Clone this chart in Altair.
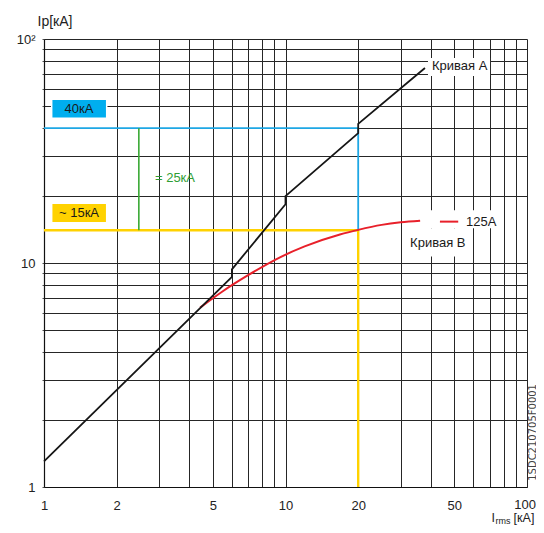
import altair as alt
import pandas as pd

FONT = "Liberation Sans"

# grid / tick values
grid_vals = [1, 2, 3, 4, 5, 6, 7, 8, 9, 10, 20, 30, 40, 50, 60, 70, 80, 90, 100]
x_label_vals = [1, 2, 5, 10, 20, 50]
x_last_label = [100]

# Curve A (black)
curve_a_x = [1, 6, 6, 10, 10, 20, 20, 37.8]
curve_a_y = [1.3, 8.66, 9.37, 18.3, 19.9, 38.0, 41.8, 74.2]

# Curve B (red, 125A)
curve_b_x = [4.43, 5.5, 7, 9.49, 12, 16.8, 20, 25, 30, 36.1]
curve_b_y = [6.32, 7.48, 8.82, 10.6, 11.86, 13.4, 14.06, 14.8, 15.2, 15.45]

# reference levels
ip_high = 40
ip_low = 14.0
irms_ref = 20
delta_x = 2.47

GRID = "#262626"

xscale = alt.Scale(type="log", domain=[1, 100], nice=False)
yscale = alt.Scale(type="log", domain=[1, 100], nice=False)

xaxis = alt.Axis(values=grid_vals, grid=True, gridColor=GRID, gridWidth=1, gridOpacity=1,
                 ticks=False, domainColor="#111", domainWidth=1.2,
                 labelExpr="indexof([1,2,5,10,20,50], datum.value) >= 0 ? '' + datum.value : ''",
                 labelFont=FONT, labelFontSize=13, labelColor="#222", labelPadding=12,
                 labelFlush=False, labelOverlap=False, title=None)
yaxis = alt.Axis(values=grid_vals, grid=True, gridColor=GRID, gridWidth=1, gridOpacity=1,
                 ticks=True, tickSize=2, tickColor="#555", domainColor="#111", domainWidth=1.2,
                 labelExpr="datum.value == 1 ? '1' : datum.value == 10 ? '10' : datum.value == 100 ? '10²' : ''",
                 labelFont=FONT, labelFontSize=13, labelColor="#222", labelPadding=7,
                 labelFlush=False, labelOverlap=False,
                 title="Ip[кА]", titleAngle=0, titleAlign="left", titleBaseline="alphabetic",
                 titleX=-7, titleY=-14, titleFont=FONT, titleFontSize=14, titleFontWeight="normal",
                 titleColor="#222")

X = lambda f: alt.X(f, type="quantitative", scale=xscale, axis=xaxis)
Y = lambda f: alt.Y(f, type="quantitative", scale=yscale, axis=yaxis)
X2 = lambda f: alt.X2(f)
Y2 = lambda f: alt.Y2(f)

curve_a = pd.DataFrame({"x": curve_a_x, "y": curve_a_y, "o": list(range(len(curve_a_x)))})
curve_b = pd.DataFrame({"x": curve_b_x, "y": curve_b_y, "o": list(range(len(curve_b_x)))})

base_grid = alt.Chart(pd.DataFrame({"x": [1], "y": [1]})).mark_point(opacity=0).encode(x=X("x"), y=Y("y"))

yellow_h = alt.Chart(pd.DataFrame({"x": [1], "x2": [irms_ref], "y": [ip_low]})).mark_rule(
    color="#ffd200", strokeWidth=2.4).encode(x=X("x"), x2=X2("x2"), y=Y("y"))
yellow_v = alt.Chart(pd.DataFrame({"x": [irms_ref], "y": [1], "y2": [ip_low]})).mark_rule(
    color="#ffd200", strokeWidth=2.4).encode(x=X("x"), y=Y("y"), y2=Y2("y2"))
blue_h = alt.Chart(pd.DataFrame({"x": [1], "x2": [irms_ref], "y": [ip_high]})).mark_rule(
    color="#1ea7e4", strokeWidth=1.6).encode(x=X("x"), x2=X2("x2"), y=Y("y"))
blue_v = alt.Chart(pd.DataFrame({"x": [irms_ref], "y": [ip_low], "y2": [ip_high]})).mark_rule(
    color="#1ea7e4", strokeWidth=1.8).encode(x=X("x"), y=Y("y"), y2=Y2("y2"))
green_v = alt.Chart(pd.DataFrame({"x": [delta_x], "y": [ip_low], "y2": [ip_high]})).mark_rule(
    color="#3aa935", strokeWidth=1.6).encode(x=X("x"), y=Y("y"), y2=Y2("y2"))

line_a = alt.Chart(curve_a).mark_line(color="#161616", strokeWidth=1.8).encode(
    x=X("x"), y=Y("y"), order="o:Q")
line_b = alt.Chart(curve_b).mark_line(color="#e8202a", strokeWidth=2, interpolate="monotone").encode(
    x=X("x"), y=Y("y"), order="o:Q")

# white label backgrounds
white_boxes = alt.Chart(pd.DataFrame({
    "x": [38.9, 37.8, 31.2], "x2": [70.3, 77.3, 59.2],
    "y": [68.4, 14.3, 10.7], "y2": [82.3, 17.2, 14.3]})).mark_rect(color="white").encode(
    x=X("x"), x2=X2("x2"), y=Y("y"), y2=Y2("y2"))

# legend segment for 125A
legend_seg = alt.Chart(pd.DataFrame({"x": [43.6], "x2": [51.9], "y": [15.3]})).mark_rule(
    color="#e8202a", strokeWidth=2).encode(x=X("x"), x2=X2("x2"), y=Y("y"))

# coloured value boxes
cyan_box = alt.Chart(pd.DataFrame({"x": [1.076], "x2": [1.818], "y": [44.3], "y2": [53.8]})).mark_rect(
    color="#00aeef", stroke="white", strokeWidth=1.5).encode(x=X("x"), x2=X2("x2"), y=Y("y"), y2=Y2("y2"))
yellow_box = alt.Chart(pd.DataFrame({"x": [1.076], "x2": [1.818], "y": [15.13], "y2": [18.48]})).mark_rect(
    color="#ffd200", stroke="white", strokeWidth=1.5).encode(x=X("x"), x2=X2("x2"), y=Y("y"), y2=Y2("y2"))

box_texts = alt.Chart(pd.DataFrame({"x": [1.396, 1.396], "y": [48.7, 16.7], "t": ["40кА", "~ 15кА"]})).mark_text(
    font=FONT, fontSize=13, color="#1a1a1a", align="center", baseline="middle").encode(
    x=X("x"), y=Y("y"), text="t:N")

green_text = alt.Chart(pd.DataFrame({"x": [2.88], "y": [23.9], "t": ["= 25кА"]})).mark_text(
    font=FONT, fontSize=13, color="#2f9e34", align="left", baseline="middle").encode(
    x=X("x"), y=Y("y"), text="t:N")

curve_texts = alt.Chart(pd.DataFrame({
    "x": [40.4, 55.9, 32.8], "y": [75.8, 15.3, 12.3],
    "t": ["Кривая А", "125А", "Кривая В"]})).mark_text(
    font=FONT, fontSize=13, color="#1a1a1a", align="left", baseline="middle").encode(
    x=X("x"), y=Y("y"), text="t:N")

# last x tick label, kept inside the page
last_label = alt.Chart(pd.DataFrame({"x": x_last_label, "y": [1], "t": ["100"]})).mark_text(
    font=FONT, fontSize=13, color="#222", align="right", baseline="top", dx=9, dy=12).encode(
    x=X("x"), y=Y("y"), text="t:N")

# x-axis title with subscript
xt_i = alt.Chart(pd.DataFrame({"t": ["I"]})).mark_text(
    font=FONT, fontSize=12.5, color="#222", align="left", baseline="alphabetic").encode(
    x=alt.value(447.5), y=alt.value(483), text="t:N")
xt_rms = alt.Chart(pd.DataFrame({"t": ["rms"]})).mark_text(
    font=FONT, fontSize=9, color="#222", align="left", baseline="alphabetic").encode(
    x=alt.value(451.6), y=alt.value(485), text="t:N")
xt_unit = alt.Chart(pd.DataFrame({"t": ["[кА]"]})).mark_text(
    font=FONT, fontSize=12.5, color="#222", align="left", baseline="alphabetic").encode(
    x=alt.value(469.6), y=alt.value(483), text="t:N")

code_text = alt.Chart(pd.DataFrame({"t": ["1SDC210705F0001"]})).mark_text(
    font="DejaVu Sans", fontSize=10, color="#444", align="right", baseline="alphabetic", angle=270).encode(
    x=alt.value(491.5), y=alt.value(345), text="t:N")

chart = alt.layer(
    base_grid, yellow_h, yellow_v, blue_h, blue_v, green_v,
    line_b, line_a, white_boxes, legend_seg, cyan_box, yellow_box,
    box_texts, green_text, curve_texts, last_label, xt_i, xt_rms, xt_unit, code_text
).properties(
    width=483, height=448,
    autosize=alt.AutoSizeParams(type="none"),
    padding={"left": 36, "top": 31, "right": 9, "bottom": 38},
    background="white",
).configure_view(strokeWidth=0)

chart.save("out.html", embed_options={"renderer": "svg", "actions": False})
